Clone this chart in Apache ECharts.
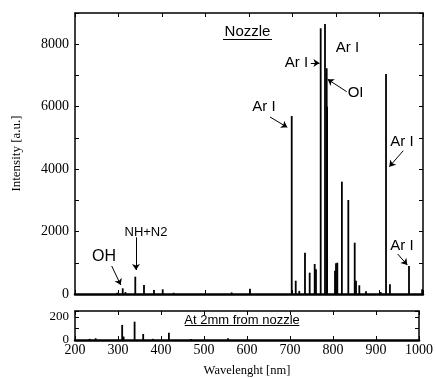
<!DOCTYPE html>
<html>
<head>
<meta charset="utf-8">
<script src="https://cdn.jsdelivr.net/npm/echarts@6/dist/echarts.min.js"></script>
<style>
  html, body { margin: 0; padding: 0; background: #fff; }
  #chart { width: 436px; height: 378px; }
</style>
</head>
<body>
<div id="chart"></div>
<script>
// emission lines at the nozzle: [wavelength nm, intensity a.u.]
const nozzleLines = [
  [297, 40], [309.7, 182], [316, 60], [338.6, 555], [358.6, 288], [381.6, 128],
  [401.6, 150], [427, 40], [560, 50], [602.3, 170], [698.2, 5700], [707.4, 426],
  [715.6, 100], [728.7, 1323], [739.5, 683], [751, 961], [754, 791], [764.8, 8510],
  [774.7, 8650], [778.6, 7230], [779.6, 6000], [797.7, 747], [800, 983], [803, 1003],
  [813.5, 3597], [828.3, 3011], [843, 1643], [846, 426], [853.6, 279], [869, 86],
  [902.8, 60], [915, 7046], [924, 310], [967.8, 897], [998, 150]
];
// emission lines 2mm from the nozzle
const farLines = [
  [234, 10], [248, 15], [309.7, 130], [313, 30], [338.6, 158], [358.6, 52],
  [381, 10], [418.4, 62], [470, 8], [556, 15]
];
const xTicks = [200, 1000, 100];      // min, max, step
const yTopTicks = [0, 9000, 1000];
const yBottomTicks = [0, 250, 100];

// annotation texts (data coords of top panel)
const topLabels = [
  { text: 'Nozzle', at: [596.6, 8392], size: 15 },
  { text: 'Ar I', at: [709, 7400], size: 15 },
  { text: 'Ar I', at: [826.4, 7879], size: 15 },
  { text: 'OI', at: [845, 6438], size: 15 },
  { text: 'Ar I', at: [634.5, 5990], size: 15 },
  { text: 'Ar I', at: [951.7, 4878], size: 15 },
  { text: 'Ar I', at: [951.7, 1537], size: 15 },
  { text: 'OH', at: [266.7, 1195], size: 16 },
  { text: 'NH+N2', at: [363.2, 1963], size: 13 }
];
// arrows: [from, to]
const topArrows = [
  [[742, 7400], [762, 7400]],
  [[824.6, 6480], [780.9, 6877]],
  [[648.3, 5669], [688, 5339]],
  [[954.7, 4590], [922.5, 4077]],
  [[941.8, 1281], [963.9, 929]],
  [[284.4, 897], [305.1, 288]],
  [[340.2, 1816], [340.2, 769]]
];
const topUnderline = [[540.2, 8168], [652.9, 8168]];
const bottomLabel = { text: 'At 2mm from nozzle', at: [588.5, 172] };
const bottomUnderline = [[455.2, 127], [721.8, 127]];

const serif = 'Liberation Serif';
const sans = 'Liberation Sans';
const frameLine = { lineStyle: { color: '#000', width: 1.5 } };

function xAxisFor(gridIndex, position, showLabels) {
  return {
    type: 'value', gridIndex: gridIndex, position: position,
    min: xTicks[0], max: xTicks[1], interval: xTicks[2],
    axisLine: { show: true, onZero: false, lineStyle: { color: '#000', width: position === 'bottom' ? 2.5 : 1.5 } },
    axisTick: { show: true, inside: true, length: 4, lineStyle: { color: '#000' } },
    axisLabel: { show: showLabels, color: '#000', fontFamily: serif, fontSize: 14, margin: 3, formatter: v => String(v) },
    splitLine: { show: false }
  };
}
function yAxisFor(gridIndex, position, ticks, showLabels, fmt, fontSize) {
  return {
    type: 'value', gridIndex: gridIndex, position: position,
    min: ticks[0], max: ticks[1], interval: ticks[2],
    axisLine: Object.assign({ show: true, onZero: false }, frameLine),
    axisTick: { show: true, inside: true, length: 4, lineStyle: { color: '#000' } },
    axisLabel: { show: showLabels, color: '#000', fontFamily: serif, fontSize: fontSize, margin: 6, formatter: fmt },
    splitLine: { show: false }
  };
}

const xAxes = [
  xAxisFor(0, 'bottom', false),
  xAxisFor(0, 'top', false),
  Object.assign(xAxisFor(1, 'bottom', true), {
    name: 'Wavelenght [nm]', nameLocation: 'middle', nameGap: 24,
    nameTextStyle: { color: '#000', fontFamily: serif, fontSize: 12.5 }
  }),
  xAxisFor(1, 'top', false)
];
const yAxes = [
  Object.assign(yAxisFor(0, 'left', yTopTicks, true, v => (v % 2000 === 0 ? String(v) : ''), 14), {
    name: 'Intensity [a.u.]', nameLocation: 'middle', nameGap: 52,
    nameTextStyle: { color: '#000', fontFamily: serif, fontSize: 13 }
  }),
  yAxisFor(0, 'right', yTopTicks, false),
  yAxisFor(1, 'left', yBottomTicks, true, v => (v === 0 || v === 200 ? String(v) : ''), 13),
  yAxisFor(1, 'right', yBottomTicks, false)
];

const textPoint = (l, size) => ({
  coord: l.at, symbol: 'circle', symbolSize: 1, itemStyle: { color: 'rgba(0,0,0,0)' },
  label: { show: true, position: 'inside', formatter: l.text, color: '#000', fontFamily: sans, fontSize: size }
});
const plainLine = seg => [{ coord: seg[0], symbol: 'none' }, { coord: seg[1], symbol: 'none' }];

const option = {
  animation: false,
  backgroundColor: '#fff',
  grid: [
    { left: 75, right: 13, top: 13, height: 281 },
    { left: 75, right: 13, top: 311, height: 32 }
  ],
  xAxis: xAxes,
  yAxis: yAxes,
  series: [
    {
      type: 'bar', xAxisIndex: 0, yAxisIndex: 0, barWidth: 1.8,
      itemStyle: { color: '#000' }, data: nozzleLines,
      markPoint: { silent: true, data: topLabels.map(l => textPoint(l, l.size)) },
      markLine: {
        silent: true, symbol: ['none', 'arrow'], symbolSize: 6,
        lineStyle: { color: '#000', width: 1, type: 'solid' }, label: { show: false },
        data: topArrows.map(a => [{ coord: a[0] }, { coord: a[1] }]).concat([plainLine(topUnderline)])
      }
    },
    {
      type: 'bar', xAxisIndex: 2, yAxisIndex: 2, barWidth: 1.8,
      itemStyle: { color: '#000' }, data: farLines,
      markPoint: { silent: true, data: [textPoint(bottomLabel, 13)] },
      markLine: {
        silent: true, symbol: 'none',
        lineStyle: { color: '#000', width: 1, type: 'solid' }, label: { show: false },
        data: [plainLine(bottomUnderline)]
      }
    }
  ]
};

const chart = echarts.init(document.getElementById('chart'));
chart.setOption(option);
</script>
</body>
</html>
